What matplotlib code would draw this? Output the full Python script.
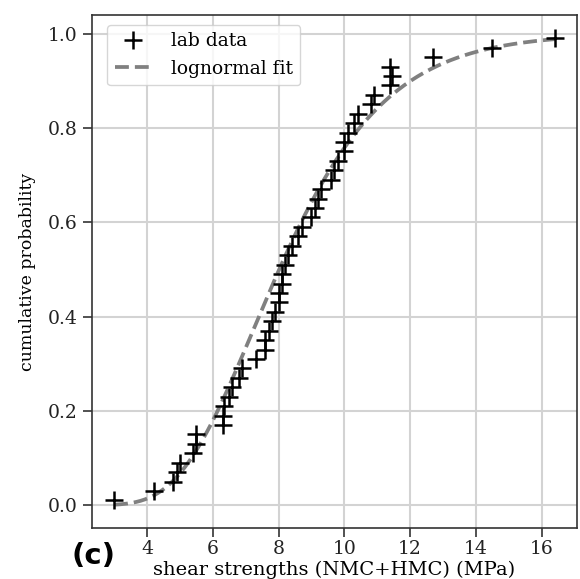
import numpy as np
import matplotlib
matplotlib.use("Agg")
import matplotlib.pyplot as plt
from math import erf, sqrt

# shear strengths (MPa), sorted lab data
strengths = [3.0, 4.2, 4.8, 4.9, 5.0, 5.4, 5.5, 5.5, 6.3, 6.3,
             6.35, 6.5, 6.6, 6.8, 6.9, 7.3, 7.6, 7.6, 7.7, 7.8,
             7.9, 8.0, 8.0, 8.1, 8.1, 8.2, 8.3, 8.4, 8.6, 8.7,
             9.0, 9.1, 9.2, 9.3, 9.6, 9.7, 9.8, 10.0, 10.0, 10.1,
             10.3, 10.4, 10.8, 10.9, 11.4, 11.45, 11.4, 12.7, 14.5, 16.4]
n = len(strengths)
cum_prob = [(i + 0.5) / n for i in range(n)]

xs = np.array(strengths)
logs = np.log(xs)
mu, sigma = logs.mean(), logs.std()
grid_x = np.linspace(xs.min(), xs.max(), 200)
fit_y = [0.5 * (1 + erf((np.log(v) - mu) / (sigma * sqrt(2)))) for v in grid_x]

plt.rcParams['font.family'] = 'DejaVu Serif'
fig = plt.figure(figsize=(5.8, 5.79), dpi=100)
ax = fig.add_axes([92/580, 1 - 528/579, (577-92)/580, (528-15)/579])

ax.plot(strengths, cum_prob, '+', color='black', ms=13, mew=1.8, label='lab data', zorder=3)
ax.plot(grid_x, fit_y, '--', color='#808080', lw=2.7, label='lognormal fit', zorder=2)

ax.grid(True, color='#d3d3d3', lw=1.5)
ax.set_axisbelow(True)
ax.set_xticks([4, 6, 8, 10, 12, 14, 16])
ax.set_yticks([0.0, 0.2, 0.4, 0.6, 0.8, 1.0])
ax.tick_params(labelsize=13.5, width=1.2, length=6.5, colors='#333333', labelcolor='#222222')
ax.tick_params(axis='x', pad=2)
ax.tick_params(axis='y', pad=4)
for s in ax.spines.values():
    s.set_color('#333333')
    s.set_linewidth(1.2)
ax.set_xlabel('shear strengths (NMC+HMC) (MPa)', fontsize=14, labelpad=2)
ax.set_ylabel('cumulative probability', fontsize=12.5, labelpad=8)
ax.legend(loc='upper left', fontsize=13.5, borderaxespad=0.0, handletextpad=1.0,
          bbox_to_anchor=(15/485, 1 - 10/513))
fig.text(72/580, 1 - 556/579, '(c)', fontsize=21, fontweight='bold',
         family='DejaVu Sans', va='center', ha='left')

fig.savefig('out.png', dpi=100)
